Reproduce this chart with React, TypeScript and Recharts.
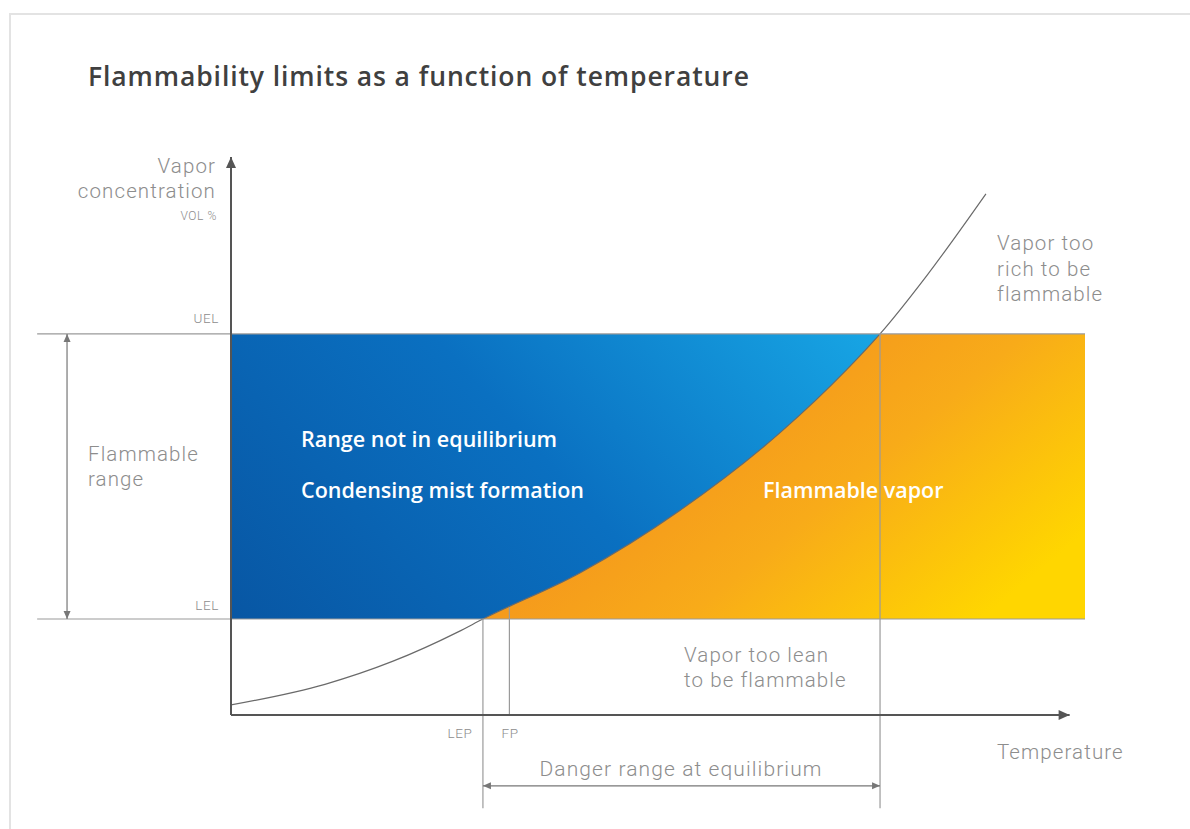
import React from 'react';
import { ComposedChart, Area, Line, XAxis, YAxis, ReferenceArea, ReferenceLine } from 'recharts';

// vapour pressure curve (temperature / vol-% in arbitrary units)
const temps = [0, 11, 18.9, 26.6, 29.5, 40.9, 52.6, 64.3, 72.1, 76, 81.5, 88.4];
const concentration = [1.8, 5.5, 9.6, 14.9, 17.2, 25.5, 36.7, 50.6, 61.9, 68.3, 78.8, 93.4];

const UEL = 68.3;
const LEL = 17.2;
const LEP = 29.5;
const FP = 32.6;
const FP_TOP = 19.3;
const UEL_TEMP = 76;

const limitLabels = ['UEL', 'LEL'];
const pointLabels = ['LEP', 'FP'];

const data = temps.map((t, i) => ({ t, conc: concentration[i] }));

const GRAY = '#8d8d8d';
const LINE = '#9a9a9a';
const AXIS = '#555';
const LABEL_FONT = 'Roboto, "Open Sans", sans-serif';

const arrowShape = (start: boolean, end: boolean, len: number, half: number, color: string, width: number) =>
  (p: any) => {
    const { x1, y1, x2, y2 } = p;
    const dx = x2 - x1;
    const dy = y2 - y1;
    const l = Math.sqrt(dx * dx + dy * dy) || 1;
    const ux = dx / l;
    const uy = dy / l;
    const head = (tx: number, ty: number, sx: number, sy: number) => {
      const bx = tx - sx * len;
      const by = ty - sy * len;
      return `${tx},${ty} ${bx - sy * half},${by + sx * half} ${bx + sy * half},${by - sx * half}`;
    };
    return (
      <g>
        <line x1={x1} y1={y1} x2={x2} y2={y2} stroke={color} strokeWidth={width} />
        {start && <polygon points={head(x1, y1, -ux, -uy)} fill={color} />}
        {end && <polygon points={head(x2, y2, ux, uy)} fill={color} />}
      </g>
    );
  };

const plain = arrowShape(false, false, 0, 0, LINE, 1.2);
const axisArrow = arrowShape(false, true, 11, 5, AXIS, 2);
const rangeArrow = arrowShape(true, true, 8, 3.5, '#777', 1.2);

// one svg <text> per label block; b = baseline of the first line, lh = line spacing
const Txt = ({ x, b, lines, size = 20.5, lh, color = GRAY, weight = 300, anchor = 'start', ls = 1.1, font = LABEL_FONT }: any) => (
  <text
    x={x}
    y={b}
    textAnchor={anchor}
    fontSize={size}
    fill={color}
    fontWeight={weight}
    fontFamily={font}
    style={{ letterSpacing: ls }}
  >
    {lines.map((s: string, i: number) => (
      <tspan key={i} x={x} dy={i === 0 ? 0 : lh ?? size}>
        {s}
      </tspan>
    ))}
  </text>
);

const BOLD = '"Open Sans", sans-serif';

export default function App() {
  return (
    <div
      style={{
        position: 'fixed',
        left: 0,
        top: 0,
        width: 1190,
        height: 829,
        background: '#fff',
        overflow: 'hidden',
        fontFamily: BOLD,
      }}
    >
      <div
        style={{
          position: 'absolute',
          left: 9,
          top: 13,
          right: -10,
          bottom: -10,
          borderTop: '2px solid #e3e3e3',
          borderLeft: '2px solid #e3e3e3',
        }}
      />

      <div style={{ position: 'absolute', left: 0, top: 0 }}>
        <ComposedChart width={1190} height={829} data={data} margin={{ top: 157, right: 105, bottom: 114, left: 231 }}>
          <defs>
            <linearGradient id="orangeFill" x1="0" y1="0.3" x2="1" y2="0.7">
              <stop offset="0.32" stopColor="#f28b1f" />
              <stop offset="0.7" stopColor="#f8ab19" />
              <stop offset="1" stopColor="#ffd600" />
            </linearGradient>
            <linearGradient id="blueFill" x1="0" y1="0.85" x2="0.9" y2="0.3">
              <stop offset="0" stopColor="#0856a3" />
              <stop offset="0.5" stopColor="#0a70c1" />
              <stop offset="1" stopColor="#18a8e6" />
            </linearGradient>
          </defs>
          <XAxis type="number" dataKey="t" domain={[0, 100]} hide allowDataOverflow />
          <YAxis type="number" domain={[0, 100]} hide allowDataOverflow />

          <ReferenceArea x1={0} x2={100} y1={LEL} y2={UEL} fill="url(#orangeFill)" fillOpacity={1} stroke="none" zIndex={10} />
          <Area
            dataKey={(d: any) => [d.conc, UEL]}
            type="monotone"
            stroke="none"
            fill="url(#blueFill)"
            fillOpacity={1}
            isAnimationActive={false}
            activeDot={false}
            zIndex={20}
          />
          <ReferenceArea x1={0} x2={100} y1={0} y2={LEL} fill="#fff" fillOpacity={1} stroke="none" zIndex={30} />
          <ReferenceArea x1={0} x2={100} y1={UEL} y2={100} fill="#fff" fillOpacity={1} stroke="none" zIndex={30} />

          <Line
            dataKey="conc"
            type="monotone"
            stroke="#6a6a6a"
            strokeWidth={1.2}
            dot={false}
            activeDot={false}
            isAnimationActive={false}
            zIndex={40}
          />

          <ReferenceLine segment={[{ x: -22.7, y: UEL }, { x: 100, y: UEL }]} ifOverflow="visible" shape={plain} zIndex={50} />
          <ReferenceLine segment={[{ x: -22.7, y: LEL }, { x: 100, y: LEL }]} ifOverflow="visible" shape={plain} zIndex={50} />
          <ReferenceLine segment={[{ x: LEP, y: LEL }, { x: LEP, y: -16.7 }]} ifOverflow="visible" shape={plain} zIndex={50} />
          <ReferenceLine segment={[{ x: FP, y: FP_TOP }, { x: FP, y: 0 }]} ifOverflow="visible" shape={plain} zIndex={50} />
          <ReferenceLine segment={[{ x: UEL_TEMP, y: UEL }, { x: UEL_TEMP, y: -16.7 }]} ifOverflow="visible" shape={plain} zIndex={50} />

          <ReferenceLine segment={[{ x: -19.2, y: UEL }, { x: -19.2, y: LEL }]} ifOverflow="visible" shape={rangeArrow} zIndex={50} />
          <ReferenceLine segment={[{ x: LEP, y: -12.7 }, { x: UEL_TEMP, y: -12.7 }]} ifOverflow="visible" shape={rangeArrow} zIndex={50} />

          <ReferenceLine segment={[{ x: 0, y: 0 }, { x: 0, y: 100 }]} ifOverflow="visible" shape={axisArrow} zIndex={60} />
          <ReferenceLine segment={[{ x: 0, y: 0 }, { x: 98.2, y: 0 }]} ifOverflow="visible" shape={axisArrow} zIndex={60} />
        </ComposedChart>
      </div>

      <svg width={1190} height={829} style={{ position: 'absolute', left: 0, top: 0, pointerEvents: 'none' }}>
        <Txt x={88} b={86} size={26.5} color="#404040" weight={600} ls={0.9} font={BOLD}
          lines={['Flammability limits as a function of temperature']} />

        <Txt x={216} b={173} lh={24.5} anchor="end" lines={['Vapor', 'concentration']} />
        <Txt x={217} b={220} size={12} ls={0.6} anchor="end" lines={['VOL %']} />
        <Txt x={219} b={323} size={13.5} ls={0.6} anchor="end" lines={[limitLabels[0]]} />
        <Txt x={219} b={610} size={13.5} ls={0.6} anchor="end" lines={[limitLabels[1]]} />
        <Txt x={88} b={461} lh={24.5} lines={['Flammable', 'range']} />

        <Txt x={301} b={447} size={21.5} color="#fff" weight={600} ls={0} font={BOLD} lines={['Range not in equilibrium']} />
        <Txt x={301} b={498} size={21.5} color="#fff" weight={600} ls={0} font={BOLD} lines={['Condensing mist formation']} />
        <Txt x={763} b={498} size={21.5} color="#fff" weight={600} ls={0} font={BOLD} lines={['Flammable vapor']} />

        <Txt x={997} b={250} lh={25.5} lines={['Vapor too', 'rich to be', 'flammable']} />
        <Txt x={684} b={662} lh={24.5} lines={['Vapor too lean', 'to be flammable']} />

        <Txt x={460} b={738} size={13.5} ls={0.6} anchor="middle" lines={[pointLabels[0]]} />
        <Txt x={510} b={738} size={13.5} ls={0.6} anchor="middle" lines={[pointLabels[1]]} />
        <Txt x={997} b={759} lines={['Temperature']} />
        <Txt x={681} b={776} size={21} anchor="middle" lines={['Danger range at equilibrium']} />
      </svg>
    </div>
  );
}
